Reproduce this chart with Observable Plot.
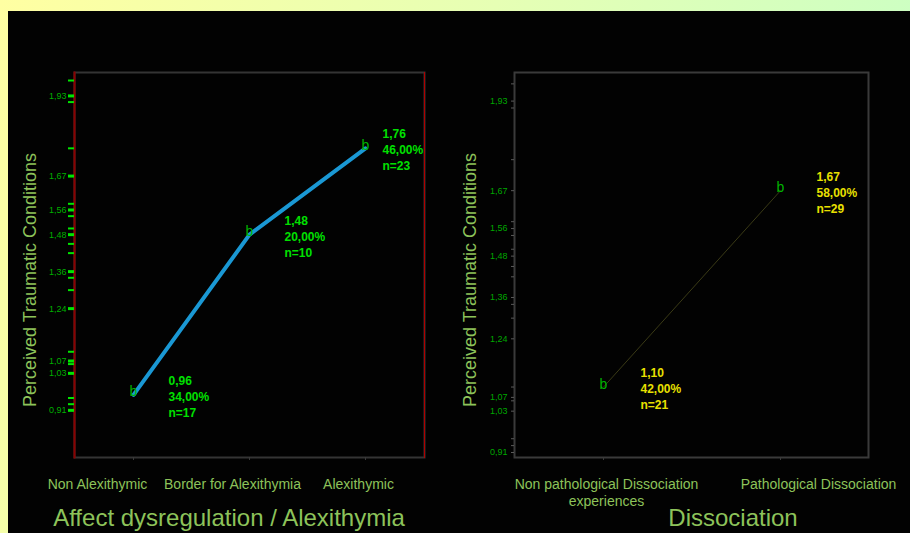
<!DOCTYPE html>
<html>
<head>
<meta charset="utf-8">
<script src="https://cdn.jsdelivr.net/npm/d3@7"></script>
<script src="https://cdn.jsdelivr.net/npm/@observablehq/plot@0.6"></script>
<style>
  html, body { margin: 0; padding: 0; }
  body { width: 910px; height: 533px; overflow: hidden; position: relative;
         background: linear-gradient(110deg, #ffffa2 0%, #e6ffb4 45%, #c2ffc8 100%);
         font-family: "Liberation Sans", Arial, sans-serif; }
  #panel { position: absolute; left: 8px; top: 11px; right: 0; bottom: 0; background: #020202; }
  #leftPlot { position: absolute; left: 0; top: 0; }
  #rightPlot { position: absolute; left: 447px; top: 0; }
  .ylab { position: absolute; white-space: nowrap; color: #8dc35a; font-size: 18px;
          transform: translate(-50%, -50%) rotate(-90deg); }
  .title { position: absolute; white-space: nowrap; color: #8dc35a; font-size: 24px;
           transform: translate(-50%, -50%); }
</style>
</head>
<body>
<div id="panel">
  <div id="leftPlot"></div>
  <div id="rightPlot"></div>
</div>
<div class="ylab" style="left:30px; top:280px;">Perceived Traumatic Conditions</div>
<div class="ylab" style="left:470px; top:280px;">Perceived Traumatic Conditions</div>
<div class="title" style="left:229px; top:518px;">Affect dysregulation / Alexithymia</div>
<div class="title" style="left:733px; top:518px;">Dissociation</div>
<script>
// ---- data ----
const leftCats = ["Non Alexithymic", "Border for Alexithymia", "Alexithymic"];
const leftMeans = [0.96, 1.48, 1.76];
const leftPct = [34, 20, 46];
const leftN = [17, 10, 23];

const rightCats = ["Non pathological Dissociation\nexperiences", "Pathological Dissociation"];
const rightMeans = [1.10, 1.67];
const rightPct = [42, 58];
const rightN = [21, 29];

const yTickLabels = [0.91, 1.03, 1.07, 1.24, 1.36, 1.48, 1.56, 1.67, 1.93];
const yMinorTicks = [0.93, 0.95, 1.06, 1.10, 1.30, 1.34, 1.42, 1.45, 1.50, 1.54, 1.58, 1.76, 1.91, 1.98];

// ---- helpers ----
const fmt = v => d3.format(".2f")(v).replace(".", ",");
const build = (cats, means, pct, n) => cats.map((c, i) => ({cat: c, mean: means[i], pct: pct[i], n: n[i]}));
const statText = d => `${fmt(d.mean)}\n${fmt(d.pct)}%\nn=${d.n}`;

const leftData = build(leftCats, leftMeans, leftPct, leftN);
const rightData = build(rightCats, rightMeans, rightPct, rightN);

const catColor = "#8dc35a";

// ---- left chart ----
const leftStatDx = [35, 35, 17];
const leftCatDx = [-36, -17, -7];
const left = Plot.plot({
  width: 447, height: 522,
  marginLeft: 66, marginTop: 61, marginRight: 31, marginBottom: 76,
  style: {background: "transparent", overflow: "visible", fontFamily: "Liberation Sans, Arial, sans-serif"},
  x: {type: "point", domain: leftCats, padding: 0.5},
  y: {domain: [0.757, 2.006]},
  marks: [
    Plot.frame({stroke: "#343434", strokeWidth: 2}),
    Plot.frame({anchor: "left", stroke: "#8b0000", strokeWidth: 2}),
    Plot.frame({anchor: "right", stroke: "#b00000", strokeWidth: 1}),
    Plot.axisY({ticks: yMinorTicks, tickFormat: () => "", tickSize: 6, stroke: "#00e600", strokeWidth: 2, label: null}),
    Plot.axisY({ticks: yTickLabels, tickFormat: fmt, tickSize: 6, tickPadding: 2, stroke: "#00e600", strokeWidth: 3,
                fill: "#00b000", fontSize: 9, label: null}),
    Plot.axisX({ticks: leftCats, tickFormat: () => "", tickSize: 3, stroke: "#3a3a3a", label: null}),
    Plot.line(leftData, {x: "cat", y: "mean", stroke: "#1a98d4", strokeWidth: 4}),
    Plot.text(leftData, {x: "cat", y: "mean", text: () => "b", fill: "#00b400", fontSize: 14, dy: -3}),
    ...leftData.map((d, i) => Plot.text([d], {x: "cat", y: "mean", text: statText, textAnchor: "start",
        lineAnchor: "middle", lineHeight: 1.33, fontSize: 12, fontWeight: "bold", fill: "#00e000",
        dx: leftStatDx[i], dy: 1})),
    ...leftCats.map((c, i) => Plot.text([c], {x: d => d, frameAnchor: "bottom", text: d => d, lineAnchor: "top",
        fill: catColor, fontSize: 14, dy: 22, dx: leftCatDx[i]}))
  ]
});
document.getElementById("leftPlot").appendChild(left);

// ---- right chart ----
const rightStatDx = [37, 36];
const rightCatDx = [3, 38];
const right = Plot.plot({
  width: 455, height: 522,
  marginLeft: 59, marginTop: 61, marginRight: 42, marginBottom: 76,
  style: {background: "transparent", overflow: "visible", fontFamily: "Liberation Sans, Arial, sans-serif"},
  x: {type: "point", domain: rightCats, padding: 0.5},
  y: {domain: [0.8955, 2.013]},
  marks: [
    Plot.frame({stroke: "#3a3a3a", strokeWidth: 2}),
    Plot.axisY({ticks: yMinorTicks, tickFormat: () => "", tickSize: 3, stroke: "#5a5a5a", strokeWidth: 1, label: null}),
    Plot.axisY({ticks: yTickLabels, tickFormat: fmt, tickSize: 3, tickPadding: 4, stroke: "#5a5a5a", strokeWidth: 1,
                fill: "#00a800", fontSize: 9, label: null}),
    Plot.axisX({ticks: rightCats, tickFormat: () => "", tickSize: 3, stroke: "#3a3a3a", label: null}),
    Plot.line(rightData, {x: "cat", y: "mean", stroke: "#3a3a16", strokeWidth: 1}),
    Plot.text(rightData, {x: "cat", y: "mean", text: () => "b", fill: "#00b400", fontSize: 14, dy: -3}),
    ...rightData.map((d, i) => Plot.text([d], {x: "cat", y: "mean", text: statText, textAnchor: "start",
        lineAnchor: "middle", lineHeight: 1.33, fontSize: 12, fontWeight: "bold", fill: "#e8e000",
        dx: rightStatDx[i], dy: 1})),
    ...rightCats.map((c, i) => Plot.text([c], {x: d => d, frameAnchor: "bottom", text: d => d, lineAnchor: "top",
        lineHeight: 1.22, fill: catColor, fontSize: 14, dy: 19, dx: rightCatDx[i]}))
  ]
});
document.getElementById("rightPlot").appendChild(right);
</script>
</body>
</html>
